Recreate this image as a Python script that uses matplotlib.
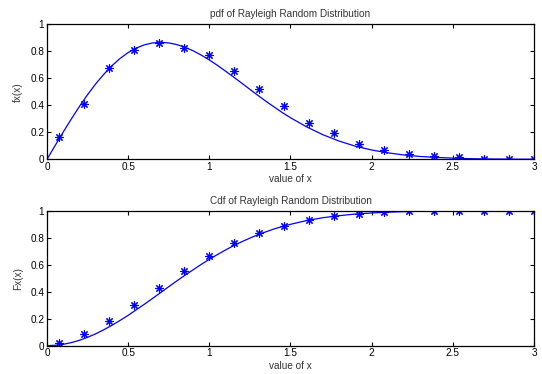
import matplotlib
matplotlib.use("Agg")
import matplotlib.pyplot as plt
from matplotlib.ticker import FuncFormatter

plt.rcParams['font.family'] = ['Liberation Sans', 'DejaVu Sans']

# Histogram bin centres and estimated values
bin_x = [0.077, 0.231, 0.385, 0.538, 0.692, 0.846, 1.000, 1.154, 1.308, 1.462,
         1.615, 1.769, 1.923, 2.077, 2.231, 2.385, 2.538, 2.692, 2.846, 3.000]
pdf_est = [0.168, 0.410, 0.674, 0.807, 0.859, 0.827, 0.773, 0.657, 0.519, 0.395,
           0.267, 0.198, 0.114, 0.067, 0.040, 0.022, 0.017, 0.003, 0.001, 0.001]
cdf_est = [0.017, 0.084, 0.180, 0.300, 0.427, 0.550, 0.664, 0.758, 0.832, 0.889,
           0.928, 0.960, 0.978, 0.990, 0.995, 0.998, 1.000, 1.000, 1.000, 1.000]

# Theoretical curves
curve_x = [0.00, 0.05, 0.10, 0.15, 0.20, 0.25, 0.30, 0.35, 0.40, 0.45, 0.50, 0.55,
           0.60, 0.65, 0.70, 0.75, 0.80, 0.85, 0.90, 0.95, 1.00, 1.05, 1.10, 1.15,
           1.20, 1.25, 1.30, 1.35, 1.40, 1.45, 1.50, 1.60, 1.70, 1.80, 1.90, 2.00,
           2.10, 2.20, 2.30, 2.40, 2.50, 2.60, 2.70, 2.80, 2.90, 3.00]
pdf_curve = [0.000, 0.102, 0.202, 0.299, 0.392, 0.479, 0.559, 0.630, 0.693, 0.747,
             0.791, 0.824, 0.848, 0.862, 0.866, 0.862, 0.850, 0.830, 0.804, 0.772,
             0.736, 0.696, 0.653, 0.609, 0.564, 0.518, 0.473, 0.429, 0.387, 0.346,
             0.308, 0.240, 0.182, 0.135, 0.097, 0.069, 0.048, 0.032, 0.021, 0.014,
             0.009, 0.005, 0.003, 0.002, 0.001, 0.001]
cdf_curve = [0.000, 0.003, 0.010, 0.023, 0.040, 0.062, 0.088, 0.118, 0.151, 0.187,
             0.225, 0.266, 0.307, 0.350, 0.393, 0.437, 0.480, 0.522, 0.562, 0.602,
             0.640, 0.675, 0.709, 0.741, 0.770, 0.797, 0.822, 0.844, 0.865, 0.883,
             0.899, 0.927, 0.948, 0.963, 0.975, 0.983, 0.989, 0.993, 0.996, 0.997,
             0.998, 0.999, 0.999, 1.000, 1.000, 1.000]

x_ticks = [0, 0.5, 1, 1.5, 2, 2.5, 3]
y_ticks = [0, 0.2, 0.4, 0.6, 0.8, 1]

fig = plt.figure(figsize=(5.42, 3.74), dpi=100)
ax1 = fig.add_axes([0.0867, 0.574, 0.8985, 0.361])
ax2 = fig.add_axes([0.0867, 0.0757, 0.8985, 0.361])

fmt = FuncFormatter(lambda v, p: ('%g' % v))
blue = '#0000ff'
star = (8, 2, 0)
fs = 7.2

panels = [
    (ax1, pdf_curve, pdf_est, 'pdf of Rayleigh Random Distribution', 'fx(x)'),
    (ax2, cdf_curve, cdf_est, 'Cdf of Rayleigh Random Distribution', 'Fx(x)'),
]
for ax, curve, est, title, ylab in panels:
    ax.plot(curve_x, curve, color=blue, lw=0.9)
    ax.plot(bin_x, est, linestyle='none', marker=star, markersize=6,
            markeredgewidth=0.8, color=blue)
    ax.set_xlim(0, 3)
    ax.set_ylim(0, 1)
    ax.set_xticks(x_ticks)
    ax.set_yticks(y_ticks)
    ax.xaxis.set_major_formatter(fmt)
    ax.yaxis.set_major_formatter(fmt)
    ax.tick_params(direction='in', length=3, width=0.8, labelsize=fs,
                   top=True, right=True, pad=2, colors='black')
    for s in ax.spines.values():
        s.set_linewidth(0.9)
    ax.set_title(title, fontsize=fs, pad=5, color='#333333')
    ax.set_xlabel('value of x', fontsize=fs, labelpad=1.5, color='#333333')
    ax.set_ylabel(ylab, fontsize=fs, labelpad=5, color='#333333')

fig.savefig('out.png', dpi=100)
